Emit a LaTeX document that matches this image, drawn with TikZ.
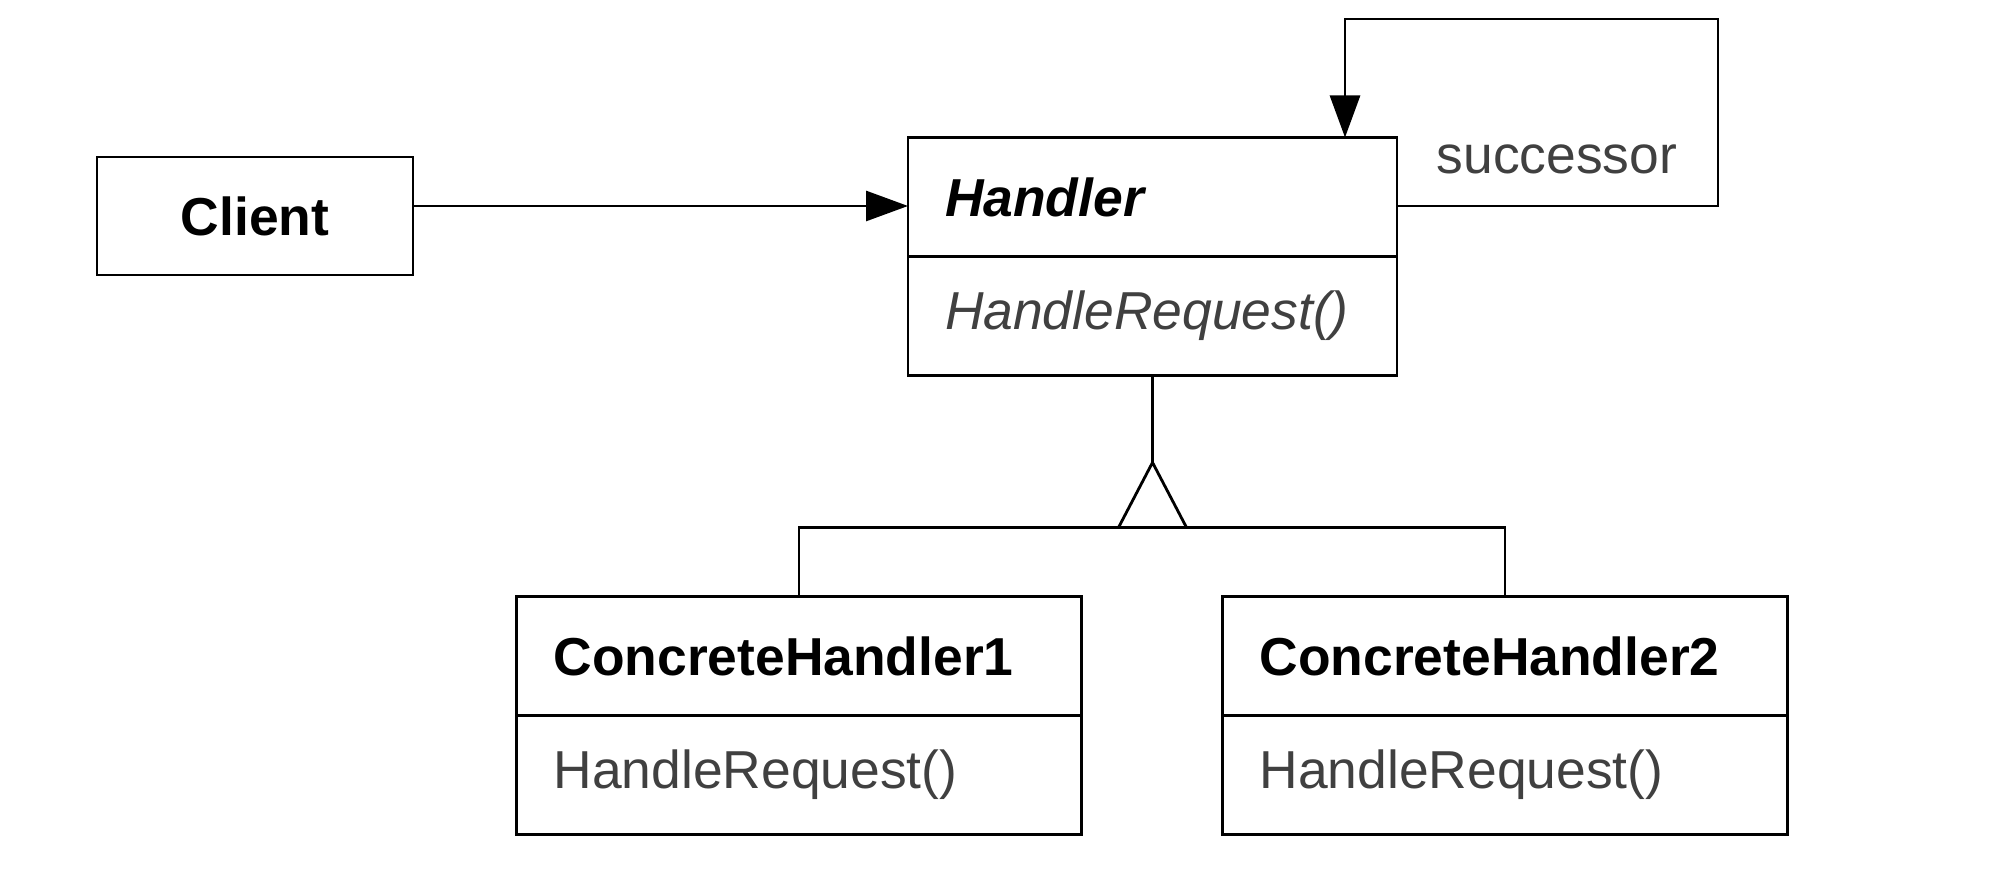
\documentclass[tikz,border=0pt]{standalone}
\usepackage{fontspec}
\setmainfont{Liberation Sans}
\usepackage{tikz}
\usetikzlibrary{arrows.meta,positioning}

\newcommand{\dgfont}{\fontsize{15.2pt}{18pt}\selectfont}

\begin{document}
\begin{tikzpicture}[
  node distance=0.7cm and 0.7cm,
  cls/.style={draw, line width=0.8pt, outer sep=0pt, minimum height=1.19cm, inner xsep=0.37cm, inner ysep=0pt, text width=#1, align=left, font=\dgfont\bfseries},
  op/.style={cls=#1, font=\dgfont, text=black!75},
  plain/.style={draw, line width=0.8pt, outer sep=0pt, minimum width=3.16cm, minimum height=1.18cm, font=\dgfont\bfseries},
  lbl/.style={inner sep=0pt, font=\dgfont, text=black!75},
  arrow/.style={-{Triangle[length=4.2mm, width=3mm]}, line width=0.8pt},
  line/.style={line width=0.8pt},
]
  \useasboundingbox (0,0) rectangle (20.1,8.72);

  \node[cls=4.15cm, font=\dgfont\bfseries\itshape] (handler) at (11.525,6.75) {Handler};
  \node[op=4.15cm, font=\dgfont\itshape, below=0pt of handler] (handlerop) {HandleRequest()};
  \node[plain, left=4.95cm of handler, yshift=-1.9mm] (client) {Client};
  \node[lbl, anchor=west] (succ) at ([xshift=3.9mm, yshift=-2.2mm]handler.north east) {successor};

  \coordinate[below=1.52cm of handlerop.south] (fork);
  \node[cls=4.91cm, below left=0.69cm and 0.71cm of fork] (ch1) {ConcreteHandler1};
  \node[op=4.91cm, below=0pt of ch1] (ch1op) {HandleRequest()};
  \node[cls=4.91cm, below right=0.69cm and 0.70cm of fork] (ch2) {ConcreteHandler2};
  \node[op=4.91cm, below=0pt of ch2] (ch2op) {HandleRequest()};

  \draw[arrow] ([yshift=1mm]client.east) -- ([yshift=1mm]client.east -| handler.west);
  \draw[arrow] ([yshift=-0.9mm]handler.east) -- ++(3.21,0) -- ++(0,1.87) -| ([xshift=1.925cm]handler.north);

  % inheritance
  \draw[line] (handlerop.south) -- ([yshift=6.5mm]fork);
  \draw[line] ([xshift=-3.4mm]fork) -- ([yshift=6.5mm]fork) -- ([xshift=3.4mm]fork);
  \draw[line] (ch1.north) |- (fork) -| (ch2.north);
\end{tikzpicture}
\end{document}
